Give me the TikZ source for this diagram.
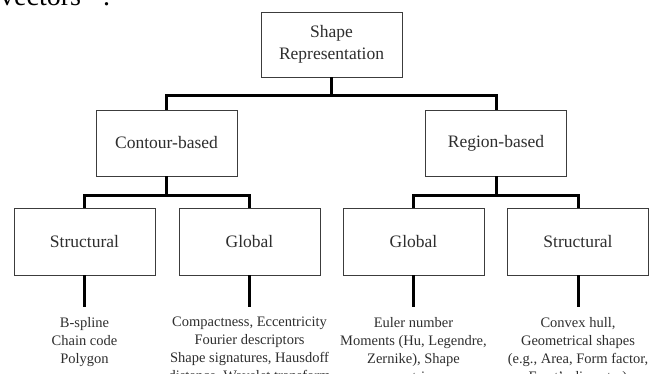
\documentclass[tikz,border=0pt]{standalone}
\usepackage{fontspec}
\setmainfont{Liberation Serif}
\usepackage{xcolor}
\usetikzlibrary{positioning}
\definecolor{boxgray}{HTML}{3C3C3C}
\definecolor{textgray}{HTML}{2E2E2E}

\begin{document}
\begin{tikzpicture}[x=1pt,y=-1pt,
    box/.style={draw=boxgray, line width=0.8pt, minimum width=141pt, minimum height=66pt,
      align=center, text=textgray, font=\fontsize{17.5}{22}\selectfont},
    conn/.style={line width=3pt, line join=miter},
    leaf/.style={align=center, inner xsep=0pt, inner ysep=9.5pt, text=textgray,
      font=\fontsize{14.5}{18}\selectfont}]
  \useasboundingbox (0,0) rectangle (657,373);
  % bit of the page text above the figure
  \node[anchor=base west, inner sep=0pt, font=\fontsize{28}{30}\selectfont] (pagetext) at (0,5) {vectors\hspace{22pt}.};
  \node[box, minimum height=65pt] (shape) at (331.5,44.5) {Shape\\Representation};
  \node[box] (contour) at (166.5,143) {Contour-based};
  \node[box] (region) at (496,143) {Region-based};
  \foreach \x/\name/\lab in {84.5/cstruct/Structural,249.5/cglobal/Global,413.5/rglobal/Global,578/rstruct/Structural}{
    \node[box, minimum height=67pt] (\name) at (\x,241.5) {\lab};
  }
  \draw[conn] (shape.south) -- ++(0,18) -| (contour.north);
  \draw[conn] (shape.south) -- ++(0,18) -| (region.north);
  \draw[conn] (contour.south) -- ++(0,19) -| (cstruct.north);
  \draw[conn] (contour.south) -- ++(0,19) -| (cglobal.north);
  \draw[conn] (region.south) -- ++(0,19) -| (rglobal.north);
  \draw[conn] (region.south) -- ++(0,19) -| (rstruct.north);
  % descriptors under each class
  \node[leaf, below=32pt of cstruct] (cstructtxt) {B-spline\\Chain code\\Polygon};
  \node[leaf, below=32pt of cglobal] (cglobaltxt) {Compactness, Eccentricity\\Fourier descriptors\\Shape signatures, Hausdoff\\distance, Wavelet transform};
  \node[leaf, below=32pt of rglobal] (rglobaltxt) {Euler number\\Moments (Hu, Legendre,\\Zernike), Shape\\matrix};
  \node[leaf, below=32pt of rstruct] (rstructtxt) {Convex hull,\\Geometrical shapes\\(e.g., Area, Form factor,\\Feret’s diameter)};
  \foreach \name in {cstruct,cglobal,rglobal,rstruct}
    \draw[conn] (\name.south) -- (\name txt.north);
\end{tikzpicture}
\end{document}
